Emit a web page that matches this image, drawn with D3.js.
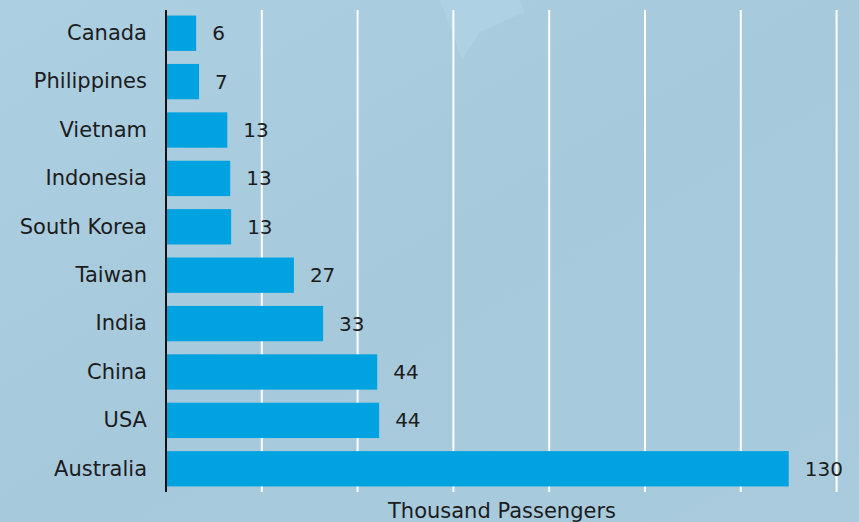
<!DOCTYPE html>
<html><head><meta charset="utf-8">
<script src="https://cdn.jsdelivr.net/npm/d3@7"></script>
<style>
html,body{margin:0;padding:0;}
body{width:859px;height:522px;overflow:hidden;}
text{font-family:"DejaVu Sans",sans-serif;}
</style></head>
<body><svg id="c" width="859" height="522"></svg>
<script>
const categories = ["Canada","Philippines","Vietnam","Indonesia","South Korea","Taiwan","India","China","USA","Australia"];
const values = [6.3, 6.9, 12.8, 13.4, 13.6, 26.7, 32.8, 44.1, 44.5, 130];
const labels = ["6","7","13","13","13","27","33","44","44","130"];
const gridTicks = [20,40,60,80,100,120,140];
const axisTitle = "Thousand Passengers";

const svg = d3.select("#c");
const W = 859, H = 522;
const defs = svg.append("defs");
const g1 = defs.append("linearGradient").attr("id","bg").attr("x1","0").attr("y1","0").attr("x2","1").attr("y2","1");
g1.append("stop").attr("offset","0").attr("stop-color","#accfe1");
g1.append("stop").attr("offset","0.5").attr("stop-color","#a6c9dc");
g1.append("stop").attr("offset","1").attr("stop-color","#a9cbdd");
svg.append("rect").attr("width",W).attr("height",H).attr("fill","url(#bg)");
// faint plane tail silhouette
svg.append("path").attr("d","M440,0 L520,0 L525,12 L480,32 L462,60 L452,32 Z").attr("fill","#b3d5e6").attr("opacity",0.6);

const x0 = 166;
const x = d3.scaleLinear().domain([0,140]).range([x0, x0 + 140*4.79]);
const y = d3.scaleBand().domain(categories).range([10,492]).paddingInner(0.27).paddingOuter(0.115);

// gridlines
svg.append("g").selectAll("line").data(gridTicks).join("line")
  .attr("x1",d=>x(d)).attr("x2",d=>x(d)).attr("y1",10).attr("y2",492)
  .attr("stroke","#ffffff").attr("stroke-width",2);

// bars
svg.append("g").selectAll("rect").data(categories).join("rect")
  .attr("x",x(0)).attr("y",d=>y(d)).attr("height",y.bandwidth())
  .attr("width",(d,i)=>x(values[i])-x(0)).attr("fill","#00a2df");

// axis line
svg.append("line").attr("x1",x0).attr("x2",x0).attr("y1",10).attr("y2",492).attr("stroke","#111").attr("stroke-width",2);

// category labels
const yAxis = d3.axisLeft(y).tickSize(0).tickPadding(19);
const ya = svg.append("g").attr("transform",`translate(${x0},0)`).call(yAxis);
ya.select(".domain").remove();
ya.selectAll("text").attr("font-size",21).attr("fill","#1c1c1c").style("font-family","DejaVu Sans");

// value labels
svg.append("g").selectAll("text").data(categories).join("text")
  .attr("x",(d,i)=>x(values[i])+16).attr("y",d=>y(d)+y.bandwidth()/2)
  .attr("dy","0.35em").attr("font-size",20).attr("fill","#1c1c1c")
  .text((d,i)=>labels[i]);

// axis title
svg.append("text").attr("x",502).attr("y",518).attr("text-anchor","middle")
  .attr("font-size",21).attr("fill","#1c1c1c").text(axisTitle);
</script></body></html>
